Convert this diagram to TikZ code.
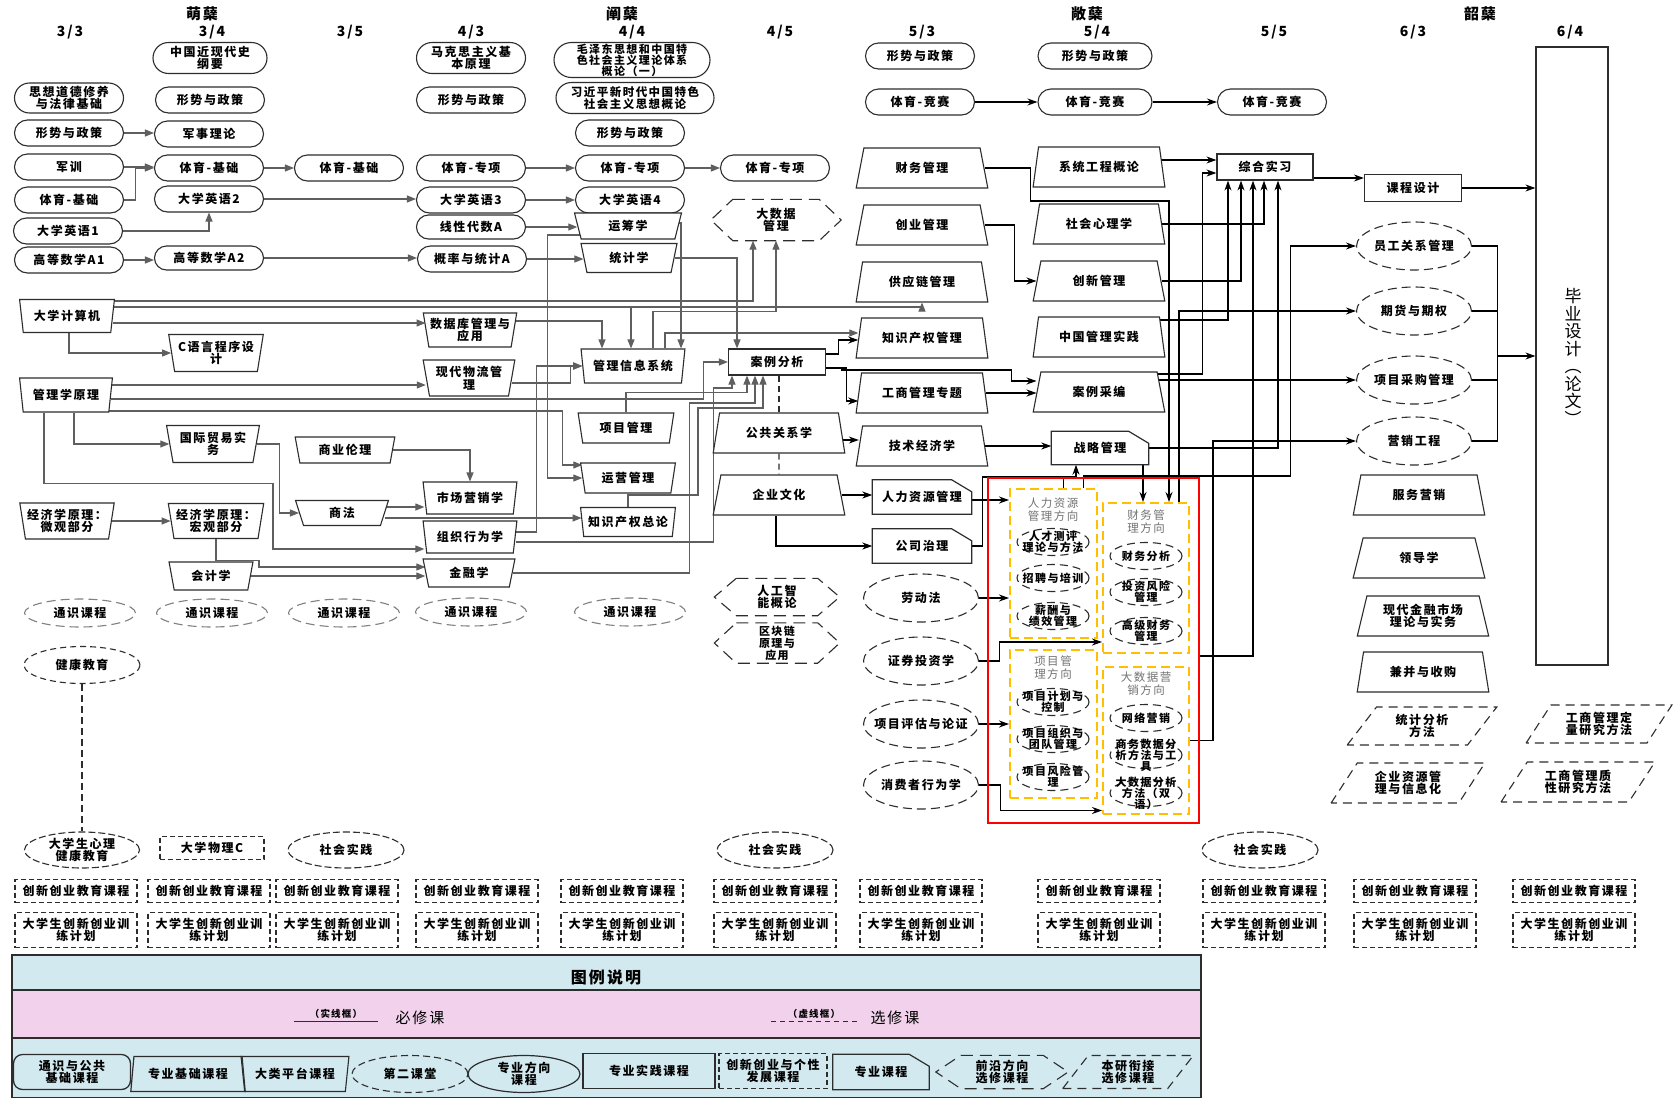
\documentclass[tikz,border=0pt]{standalone}
\usepackage{fontspec}
\setmainfont{Noto Sans CJK SC}[LetterSpace=13]
\newfontfamily\cjkn{Noto Sans CJK SC}
\usetikzlibrary{shapes.geometric,shapes.misc,arrows.meta}
\pgfdeclarelayer{back}
\pgfdeclarelayer{bg}
\pgfsetlayers{back,bg,main}
\definecolor{ln}{RGB}{45,45,45}
\definecolor{lg}{RGB}{95,95,95}
\definecolor{lblue}{RGB}{210,233,239}
\definecolor{lpink}{RGB}{241,209,235}
\definecolor{ygold}{RGB}{255,190,0}
\newcommand\fs{\fontsize{12}{12.5}\selectfont\bfseries}
\newcommand\mksnip[1]{\draw[draw=ln,line width=1.2pt] (#1.south west) -- (#1.north west) -- ([xshift=-20pt]#1.north east) -- ([yshift=-12pt]#1.north east) -- (#1.south east) -- cycle;}
\newcommand\mkhex[2]{\draw[draw=ln,line width=1.1pt,dash pattern=on 12pt off 7pt] ([xshift=#2]#1.north west) -- ([xshift=-#2]#1.north east) -- (#1.east) -- ([xshift=-#2]#1.south east) -- ([xshift=#2]#1.south west) -- (#1.west) -- cycle;}
\begin{document}
\begin{tikzpicture}[x=1pt,y=-1pt,
 every node/.style={font=\fs, align=center, inner sep=1pt, text=black},
 hd/.style={font=\fontsize{15}{15}\selectfont\bfseries},
 cl/.style={font=\fontsize{14}{14}\selectfont\bfseries},
 st/.style={rounded rectangle, draw=ln, line width=1.1pt, fill=white, minimum width=111pt, minimum height=26pt},
 tu/.style={trapezium, trapezium stretches=true, trapezium left angle=78, trapezium right angle=78, shape border rotate=180, draw=ln, line width=1.1pt, fill=white},
 tb/.style={trapezium, trapezium stretches=true, trapezium left angle=75, trapezium right angle=75, draw=ln, line width=1.1pt, fill=white, minimum width=132pt, minimum height=40pt},
 bx/.style={rectangle, draw=ln, line width=1.2pt, fill=white},
 sn/.style={rectangle, fill=white},
 de/.style={ellipse, draw=ln, line width=1.1pt, dash pattern=on 9pt off 5pt, fill=white, minimum width=115pt, minimum height=48pt, inner xsep=-8pt, inner ysep=0pt},
 te/.style={ellipse, draw=black!50, line width=1.1pt, dash pattern=on 9pt off 5pt, fill=white, minimum width=111pt, minimum height=28pt, inner sep=0pt},
 se/.style={ellipse, draw=ln, line width=1.1pt, dash pattern=on 8pt off 5pt, minimum width=72pt, minimum height=27pt, inner sep=0pt},
 et/.style={font=\fontsize{11}{11}\selectfont\bfseries},
 dr/.style={rectangle, draw=ln, line width=1.2pt, dash pattern=on 5pt off 3pt, fill=white},
 pg/.style={trapezium, trapezium stretches=true, trapezium left angle=56, trapezium right angle=124, draw=ln, line width=1.1pt, dash pattern=on 9pt off 6pt, minimum width=150pt, minimum height=38pt},
 yb/.style={draw=ygold, line width=2pt, dash pattern=on 9pt off 5pt, inner sep=0pt},
 dt/.style={font=\fontsize{11.5}{13}\selectfont\mdseries, text=black!55},
 ag/.style={draw=lg, line width=1.1pt, -{Triangle[length=9pt,width=7pt]}},
 ak/.style={draw=black, line width=1.1pt, -{Stealth[length=10pt,width=7pt]}}]
\useasboundingbox (0,0) rectangle (1674,1098);
\begin{pgfonlayer}{back}
\fill[white] (0,0) rectangle (1674,1098);
\end{pgfonlayer}
% headers
\node[hd] (g1) at (202,14) {萌蘖};
\node[hd] (g2) at (622,14) {阐蘖};
\node[hd] (g3) at (1087,14) {敞蘖};
\node[hd] (g4) at (1480,14) {韶蘖};
\node[cl] (c1) at (70,32) {3/3};
\node[cl] (c2) at (212,32) {3/4};
\node[cl] (c3) at (350,32) {3/5};
\node[cl] (c4) at (471,32) {4/3};
\node[cl] (c5) at (632,32) {4/4};
\node[cl] (c6) at (780,32) {4/5};
\node[cl] (c7) at (922,32) {5/3};
\node[cl] (c8) at (1097,32) {5/4};
\node[cl] (c9) at (1274,32) {5/5};
\node[cl] (c10) at (1413,32) {6/3};
\node[cl] (c11) at (1570,32) {6/4};
% stadium nodes
\node[st,minimum height=30pt] (szdd) at (69,98) {思想道德修养\\与法律基础};
\node[st] (xs33) at (69,133) {形势与政策};
\node[st] (jx) at (69,167) {军训};
\node[st] (ty33) at (69,200) {体育-基础};
\node[st] (yy1) at (68,231) {大学英语1};
\node[st] (gs1) at (69,260) {高等数学A1};
\node[st,minimum height=31pt,minimum width=116pt] (zgjx) at (210,58) {中国近现代史\\纲要};
\node[st] (xs34) at (210,100) {形势与政策};
\node[st] (jsll) at (209,134) {军事理论};
\node[st] (ty34) at (209,168) {体育-基础};
\node[st] (yy2) at (209,199) {大学英语2};
\node[st,minimum height=24pt] (gs2) at (209,258) {高等数学A2};
\node[st] (ty35) at (349,168) {体育-基础};
\node[st,minimum height=31pt] (mks) at (471,58) {马克思主义基\\本原理};
\node[st] (xs43) at (471,100) {形势与政策};
\node[st] (tz43) at (471,168) {体育-专项};
\node[st] (yy3) at (471,200) {大学英语3};
\node[st,minimum height=24pt] (xd) at (471,227) {线性代数A};
\node[st] (gl) at (472,259) {概率与统计A};
\node[st,minimum width=158pt,minimum height=35pt,font=\fontsize{11}{11}\selectfont\bfseries] (mzd) at (632,60) {毛泽东思想和中国特\\色社会主义理论体系\\概论（一）};
\node[st,minimum width=160pt,minimum height=31pt,font=\fontsize{11.5}{12}\selectfont\bfseries] (xjp) at (635,98) {习近平新时代中国特色\\社会主义思想概论};
\node[st] (xs44) at (630,133) {形势与政策};
\node[st] (tz44) at (630,168) {体育-专项};
\node[st] (yy4) at (630,200) {大学英语4};
\node[st] (tz45) at (775,168) {体育-专项};
\node[st] (xs53) at (920,56) {形势与政策};
\node[st] (tj53) at (920,102) {体育-竞赛};
\node[st,minimum width=116pt] (xs54) at (1095,56) {形势与政策};
\node[st,minimum width=116pt] (tj54) at (1095,102) {体育-竞赛};
\node[st] (tj55) at (1272,102) {体育-竞赛};
% wider-top trapezia
\node[tu,minimum width=95pt,minimum height=33pt] (jsj) at (67,316) {大学计算机};
\node[tu,minimum width=95pt,minimum height=37pt] (cyy) at (216,353) {C语言程序设\\计};
\node[tu,minimum width=93pt,minimum height=34pt] (glx) at (66,395) {管理学原理};
\node[tu,minimum width=93pt,minimum height=37pt] (gjmy) at (213,444) {国际贸易实\\务};
\node[tu,minimum width=100pt,minimum height=26pt] (syll) at (345,450) {商业伦理};
\node[tu,minimum width=95pt,minimum height=36pt] (wg) at (67,521) {经济学原理：\\微观部分};
\node[tu,minimum width=96pt,minimum height=35pt] (hg) at (216,521) {经济学原理：\\宏观部分};
\node[tu,minimum width=93pt,minimum height=25pt] (sf) at (342,513) {商法};
\node[tu,minimum width=84pt,minimum height=28pt] (kj) at (211,576) {会计学};
\node[tu,minimum width=94pt,minimum height=34pt] (sjk) at (470,330) {数据库管理与\\应用};
\node[tu,minimum width=92pt,minimum height=36pt] (wl) at (469,378) {现代物流管\\理};
\node[tu,minimum width=94pt,minimum height=32pt] (yx) at (470,498) {市场营销学};
\node[tu,minimum width=94pt,minimum height=32pt] (zz) at (470,537) {组织行为学};
\node[tu,minimum width=92pt,minimum height=28pt] (jr) at (469,573) {金融学};
\node[tu,minimum width=107pt,minimum height=26pt] (ycx) at (628,226) {运筹学};
\node[tu,minimum width=96pt,minimum height=29pt] (tjx) at (629,258) {统计学};
\node[tu,minimum width=104pt,minimum height=34pt] (mis) at (633,366) {管理信息系统};
\node[tu,minimum width=96pt,minimum height=30pt] (xmgl) at (626,428) {项目管理};
\node[tu,minimum width=95pt,minimum height=30pt] (yygl) at (628,478) {运营管理};
\node[tu,minimum width=95pt,minimum height=29pt] (zscq) at (628,522) {知识产权总论};
% wider-bottom trapezia
\node[tb] (cwgl) at (922,168) {财务管理};
\node[tb] (cygl) at (922,225) {创业管理};
\node[tb] (gyl) at (922,282) {供应链管理};
\node[tb] (zscqgl) at (922,338) {知识产权管理};
\node[tb] (gsgl) at (922,393) {工商管理专题};
\node[tb] (jsjj) at (922,446) {技术经济学};
\node[tb] (xtgc) at (1099,167) {系统工程概论};
\node[tb] (shxl) at (1099,224) {社会心理学};
\node[tb] (cxgl) at (1099,281) {创新管理};
\node[tb] (zggl) at (1099,337) {中国管理实践};
\node[tb] (alcb) at (1099,392) {案例采编};
\node[tb] (ggxx) at (779,433) {公共关系学};
\node[tb] (qywh) at (779,495) {企业文化};
\node[tb] (fwyx) at (1419,495) {服务营销};
\node[tb] (ldx) at (1419,558) {领导学};
\node[tb] (xdjr) at (1423,616) {现代金融市场\\理论与实务};
\node[tb] (bb) at (1423,672) {兼并与收购};
% rectangles
\node[bx,minimum width=97pt,minimum height=26pt] (alfx) at (777,362) {案例分析};
\node[bx,minimum width=96pt,minimum height=26pt] (zhsx) at (1265,167) {综合实习};
\node[bx,minimum width=97pt,minimum height=27pt] (kcsj) at (1413,188) {课程设计};
\node[bx,minimum width=72pt,minimum height=618pt] (bysj) at (1572,356) {};
\node[font=\cjkn\fontsize{17}{17.5}\selectfont] (bytx) at (1573,357) {毕\\业\\设\\计\\︵\\论\\文\\︶};
% snipped rectangles
\node[sn,minimum width=97pt,minimum height=33pt] (zlgl) at (1100,448) {战略管理};
\mksnip{zlgl}
\node[sn,minimum width=99pt,minimum height=34pt] (rlzy) at (922,497) {人力资源管理};
\mksnip{rlzy}
\node[sn,minimum width=99pt,minimum height=34pt] (gszl) at (922,546) {公司治理};
\mksnip{gszl}
% dashed ellipses
\node[de] (ldf) at (921,598) {劳动法};
\node[de] (zqtz) at (921,661) {证券投资学};
\node[de] (xmpg) at (921,724) {项目评估与论证};
\node[de] (xfz) at (921,785) {消费者行为学};
\node[de] (ygg) at (1414,246) {员工关系管理};
\node[de] (qh) at (1414,311) {期货与期权};
\node[de] (xmcg) at (1414,380) {项目采购管理};
\node[de] (yxgc) at (1414,441) {营销工程};
\node[te] (ts1) at (80,613) {通识课程};
\node[te] (ts2) at (212,613) {通识课程};
\node[te] (ts3) at (344,613) {通识课程};
\node[te] (ts4) at (471,612) {通识课程};
\node[te] (ts5) at (630,612) {通识课程};
\node[de,minimum width=116pt,minimum height=37pt,dash pattern=on 6pt off 4pt] (jkjy) at (82,665) {健康教育};
\node[de,minimum width=115pt,minimum height=36pt,dash pattern=on 7pt off 3pt] (xljk) at (82,850) {大学生心理\\健康教育};
\node[de,minimum width=116pt,minimum height=36pt,dash pattern=on 7pt off 3pt] (sj1) at (346,850) {社会实践};
\node[de,minimum width=116pt,minimum height=36pt,dash pattern=on 7pt off 3pt] (sj2) at (775,850) {社会实践};
\node[de,minimum width=116pt,minimum height=36pt,dash pattern=on 7pt off 3pt] (sj3) at (1260,850) {社会实践};
% hexagons
\node[minimum width=130pt,minimum height=41pt] (dsj) at (776,220) {大数据\\管理};
\mkhex{dsj}{22pt}
\node[minimum width=125pt,minimum height=37pt] (rgzn) at (777,597) {人工智\\能概论};
\mkhex{rgzn}{22pt}
\node[minimum width=125pt,minimum height=40pt,font=\fontsize{11}{12}\selectfont\bfseries] (qkl) at (777,643) {区块链\\原理与\\应用};
\mkhex{qkl}{22pt}
% parallelograms
\node[pg] (tjfx) at (1422,726) {统计分析\\方法};
\node[pg,minimum width=146pt] (dlyj) at (1599,724) {工商管理定\\量研究方法};
\node[pg,minimum width=154pt,minimum height=40pt] (qyzy) at (1408,783) {企业资源管\\理与信息化};
\node[pg,minimum width=154pt,minimum height=40pt] (zxyj) at (1578,782) {工商管理质\\性研究方法};
% dashed rectangles
\node[dr,minimum width=104pt,minimum height=23pt] (wlc) at (212,848) {大学物理C};
\foreach \x [count=\i] in {76,209,337,477,622,775,921,1099,1264,1415,1574} {
 \node[dr,minimum width=122pt,minimum height=23pt] (cx\i) at (\x,891) {创新创业教育课程};
 \node[dr,minimum width=122pt,minimum height=35pt] (xl\i) at (\x,930) {大学生创新创业训\\练计划};
}
% red box with directions
\node[draw=red, line width=1.3pt, minimum width=211pt, minimum height=345pt, inner sep=0pt] (rbox) at (1093.5,650.5) {};
\node[yb, minimum width=87pt, minimum height=149pt] (hrd) at (1053.5,563.5) {};
\node[yb, minimum width=86pt, minimum height=150pt] (fd) at (1146,578) {};
\node[yb, minimum width=87pt, minimum height=148pt] (pd) at (1053.5,724) {};
\node[yb, minimum width=86pt, minimum height=147pt] (bd) at (1146,740.5) {};
\node[dt] (hrt) at (1053,510) {人力资源\\管理方向};
\node[dt] (fdt) at (1146,522) {财务管\\理方向};
\node[dt] (pdt) at (1053,668) {项目管\\理方向};
\node[dt] (bdt) at (1146,684) {大数据营\\销方向};
\node[se] (e1) at (1053,542) {}; \node[et] (t1) at (e1) {人才测评\\理论与方法};
\node[se] (e2) at (1053,578) {}; \node[et] (t2) at (e2) {招聘与培训};
\node[se] (e3) at (1053,616) {}; \node[et] (t3) at (e3) {薪酬与\\绩效管理};
\node[se] (e4) at (1146,556) {}; \node[et] (t4) at (e4) {财务分析};
\node[se] (e5) at (1146,592) {}; \node[et] (t5) at (e5) {投资风险\\管理};
\node[se] (e6) at (1146,631) {}; \node[et] (t6) at (e6) {高级财务\\管理};
\node[se] (e7) at (1053,702) {}; \node[et] (t7) at (e7) {项目计划与\\控制};
\node[se] (e8) at (1053,739) {}; \node[et] (t8) at (e8) {项目组织与\\团队管理};
\node[se] (e9) at (1053,777) {}; \node[et] (t9) at (e9) {项目风险管\\理};
\node[se] (e10) at (1146,718) {}; \node[et] (t10) at (e10) {网络营销};
\node[se] (e11) at (1146,755) {}; \node[et] (t11) at (e11) {商务数据分\\析方法与工\\具};
\node[se] (e12) at (1146,793) {}; \node[et] (t12) at (e12) {大数据分析\\方法（双\\语）};
% legend
\fill[lblue] (12,955) rectangle (1201,990);
\fill[lpink] (12,990) rectangle (1201,1038);
\fill[lblue] (12,1038) rectangle (1201,1098);
\draw[ln, line width=1.3pt] (12,955) rectangle (1201,1098);
\draw[ln, line width=1.3pt] (12,990) -- (1201,990);
\draw[ln, line width=1.3pt] (12,1038) -- (1201,1038);
\node[font=\fontsize{16}{16}\selectfont\bfseries] (lgt) at (606,977) {图例说明};
\node[font=\fontsize{9.5}{10}\selectfont\bfseries] (sxk) at (336,1014) {（实线框）};
\draw[ln, line width=1pt] (294,1021) -- (378,1021);
\node[font=\fontsize{15}{15}\selectfont] (bxk) at (420,1018) {必修课};
\node[font=\fontsize{9.5}{10}\selectfont\bfseries] (xxk) at (814,1014) {（虚线框）};
\draw[ln, line width=1pt, dash pattern=on 5pt off 4pt] (771,1021) -- (857,1021);
\node[font=\fontsize{15}{15}\selectfont] (xxke) at (895,1018) {选修课};
\node[rectangle, rounded corners=9pt, draw=ln, line width=1.3pt, minimum width=117pt, minimum height=35pt] (lg1) at (72,1072) {通识与公共\\基础课程};
\node[trapezium, trapezium stretches=true, trapezium left angle=80, trapezium right angle=80, draw=ln, line width=1.2pt, minimum width=115pt, minimum height=35pt] (lg2) at (188,1074) {专业基础课程};
\node[tu, fill=none, minimum width=108pt, minimum height=35pt] (lg3) at (295,1074) {大类平台课程};
\node[de, fill=none, minimum width=116pt, minimum height=37pt, dash pattern=on 7pt off 4pt] (lg4) at (410,1074) {第二课堂};
\node[ellipse, draw=ln, line width=1.2pt, minimum width=112pt, minimum height=37pt, inner sep=0pt] (lg5) at (524,1074) {专业方向\\课程};
\node[bx, fill=none, minimum width=132pt, minimum height=35pt] (lg6) at (649,1071) {专业实践课程};
\node[dr, fill=none, minimum width=108pt, minimum height=35pt] (lg7) at (773,1071) {创新创业与个性\\发展课程};
\node[minimum width=96pt, minimum height=35pt] (lg8) at (881,1072) {专业课程};
\mksnip{lg8}
\node[minimum width=132pt, minimum height=33pt] (lg9) at (1002,1072) {前沿方向\\选修课程};
\mkhex{lg9}{25pt}
\node[pg, minimum width=131pt, minimum height=33pt] (lg10) at (1128,1072) {本研衔接\\选修课程};
% connectors
\begin{pgfonlayer}{bg}
\draw[ag] (xs33.east) -- (xs33.east -| jsll.west);
\draw[ag] (jx.east) -- (jx.east -| ty34.west);
\draw[ag] (ty33.east) -- ++(11,0) |- (ty34.west);
\draw[ag] (yy1.east) -| (yy2.south);
\draw[ag] (gs1.east) -- (gs1.east -| gs2.west);
\draw[ag] (ty34.east) -- (ty34.east -| ty35.west);
\draw[ag] (yy2.east) -- (yy2.east -| yy3.west);
\draw[ag] (gs2.east) -- (gs2.east -| gl.west);
\draw[ag] (tz43.east) -- (tz43.east -| tz44.west);
\draw[ag] (tz44.east) -- (tz44.east -| tz45.west);
\draw[ag] (yy3.east) -- (yy3.east -| yy4.west);
\draw[ag] (xd.east) -- (xd.east -| ycx.west);
\draw[ag] (gl.east) -- (gl.east -| tjx.west);
\draw[ak] (tj53.east) -- (tj53.east -| tj54.west);
\draw[ak] (tj54.east) -- (tj54.east -| tj55.west);
% computer
\draw[ag] ([yshift=15pt]jsj.east) -| ([xshift=-23pt]dsj.south);
\draw[ag] ([yshift=9pt]jsj.east) -| (gyl.south);
\draw[ag] ([yshift=9pt]jsj.east) -| ([xshift=-2pt]mis.north);
\draw[ag] ([yshift=-7pt]jsj.east) -- ([yshift=-7pt]jsj.east -| sjk.west);
\draw[ag] ([xshift=2pt]jsj.south) |- (cyy.west);
% management principles
\draw[ag] ([yshift=10pt]glx.east) -- ([yshift=10pt]glx.east -| wl.west);
\draw[ag] ([yshift=-4pt]glx.east) -| ([xshift=-24pt]alfx.west) -- (alfx.west);
\draw[ag] ([xshift=-5pt,yshift=-16pt]glx.east) -| ([xshift=-20pt,yshift=13pt]yygl.west) -- ([yshift=13pt]yygl.west);
\draw[ag] ([xshift=8pt]glx.south) |- (gjmy.west);
\draw[ag] ([xshift=-22pt]glx.south) -- ++(0,71) -- ++(229,0) |- ([yshift=-12pt]zz.west);
\draw[ag] (gjmy.east) -- ++(23,0) |- (sf.west);
\draw[ag] (syll.east) -| (yx.north);
\draw[ag] ([yshift=6pt]sf.east) -- ([yshift=6pt]sf.east -| yx.west);
\draw[ag] ([yshift=-5pt]sf.east) -- ([yshift=-5pt]sf.east -| zscq.west);
\draw[ag] (wg.east) -- (wg.east -| hg.west);
\draw[ag] (hg.south) -- ++(0,21) -- ++(43,0) |- ([yshift=6pt]jr.west);
\draw[ag] (kj.east) -- (kj.east -| jr.west);
% middle block
\draw[ag] ([yshift=9pt]sjk.east) -| ([xshift=-31pt]mis.north);
\draw[ag] ([yshift=3pt]ycx.east) -| ([xshift=48pt]mis.north);
\draw[ag] ([xshift=5pt,yshift=-9pt]ycx.west) -- ++(-35,0) |- (yygl.west);
\draw[ag] (tjx.east) -| ([xshift=-40pt]alfx.north);
\draw[ag] ([yshift=-5pt]wl.east) -- ++(58,0) |- (mis.west);
\draw[ag] ([yshift=5pt]zz.east) -- ++(21,0) |- (mis.west);
\draw[ag] (xmgl.north) -- ++(0,-20) -| ([xshift=-30pt]alfx.south);
\draw[ag] (jr.east) -- ++(177,0) -- ++(0,-170) -| ([xshift=-22pt]alfx.south);
\draw[ag] ([yshift=-5pt]zz.east) -- ++(198,0) -- ++(0,-154) -| ([xshift=-45pt]alfx.south);
\draw[ag] (zscq.north) -- ++(0,-12) -- ++(70,0) -- ++(0,-87) -| ([xshift=-14pt]alfx.south);
\draw[ag] ([xshift=20pt]mis.north) -- ++(0,-37) -| (dsj.south);
\draw[ag] ([xshift=32pt]mis.north) |- ([yshift=5pt]zscqgl.west);
% case analysis outputs
\draw[ak] ([yshift=8pt]alfx.east) -- ++(12,0) |- ([yshift=-2pt]zscqgl.west);
\draw[ak] ([yshift=-6pt]alfx.east) -- ++(20,0) |- ([yshift=-8pt]gsgl.west);
\draw[ak] ([yshift=-6pt]alfx.east) -- ++(15,0) -- ++(0,2) -- ++(170,0) |- ([yshift=11pt]alcb.west);
\draw[ak] (gsgl.east) -- (gsgl.east -| alcb.west);
\draw[line width=1.1pt, draw=ln, dash pattern=on 6pt off 4pt] (alfx.south -| ggxx.north) -- (ggxx.north);
\draw[line width=1.1pt, draw=ln, dash pattern=on 6pt off 4pt] (ggxx.south) -- (qywh.north);
\draw[ak] ([yshift=-7pt]ggxx.east) -- ([yshift=-7pt]ggxx.east -| jsjj.west);
\draw[ak] (jsjj.east) -- (jsjj.east -| zlgl.west);
\draw[ak] (qywh.east) -- (qywh.east -| rlzy.west);
\draw[ak] ([xshift=-3pt]qywh.south) |- (gszl.west);
% 5/3 - 5/5
\draw[ak] (cwgl.east) -- ++(46,0) -- ++(0,33) -| ([xshift=23pt]fd.north);
\draw[ak] ([xshift=-5pt,yshift=7pt]xtgc.east) -- ([yshift=7pt]xtgc.east -| zhsx.west);
\draw[ak] (cygl.east) -- ++(30,0) |- (cxgl.west);
\draw[ak] (shxl.east) -| ([xshift=-1pt]zhsx.south);
\draw[ak] (cxgl.east) -| ([xshift=-24pt]zhsx.south);
\draw[ak] ([xshift=-10pt,yshift=17pt]zggl.east) -| ([xshift=-37pt]zhsx.south);
\draw[ak] ([xshift=-10pt,yshift=18pt]alcb.east) -- ++(51,0) |- ([yshift=-6pt]zhsx.west);
\draw[ak] ([xshift=-8pt,yshift=12pt]alcb.east) -- ([yshift=12pt]alcb.east -| xmcg.west);
\draw[ak] (zlgl.east) -| ([xshift=13pt]zhsx.south);
\draw[ak] (gszl.east) -- ++(11,0) -- ++(0,-69) -| ([xshift=-24pt]zlgl.south);
\draw[ak,-] ([xshift=10pt]hrd.north) -- ++(0,-12);
\coordinate (zs) at ([xshift=43pt]zlgl.south);
\draw[ak] (zs) -- (zs |- fd.north);
\draw[ak] ([yshift=-3pt]rlzy.east) -- ([yshift=-3pt]rlzy.east -| hrd.west);
\draw[ak] (ldf.east) -- (ldf.east -| hrd.west);
\draw[ak] (zqtz.east) -- ++(20,0) |- ([yshift=-64pt]fd.west);
\draw[ak] (xmpg.east) -- (xmpg.east -| pd.west);
\draw[ak] (xfz.east) -- ++(21,0) |- ([yshift=-70pt]bd.west);
\draw[ak] ([xshift=33pt]fd.north) |- (qh.west);
\draw[ak] ([xshift=30pt]hrd.north) -- ++(0,-12) -- ++(207,0) |- (ygg.west);
\draw[ak] (bd.east) -- ++(23,0) |- (yxgc.west);
\draw[ak] ([yshift=-5.5pt]rbox.east) -| ([xshift=-12pt]zhsx.south);
\draw[ak] ([yshift=-11pt]zhsx.east) -- ([yshift=-11pt]zhsx.east -| kcsj.west);
\draw[ak] (kcsj.east) -- (kcsj.east -| bysj.west);
\coordinate (ej) at ([xshift=25pt]ygg.east);
\draw[ak,-] (ygg.east) -- (ej) |- (yxgc.east);
\draw[ak,-] (qh.east) -- (qh.east -| ej);
\draw[ak,-] (xmcg.east) -- (xmcg.east -| ej);
\draw[ak] (ej |- bysj.west) -- (bysj.west);
\draw[draw=ln, line width=1.2pt, dash pattern=on 7pt off 4pt] (jkjy.south) -- (xljk.north);
\end{pgfonlayer}
\end{tikzpicture}
\end{document}
